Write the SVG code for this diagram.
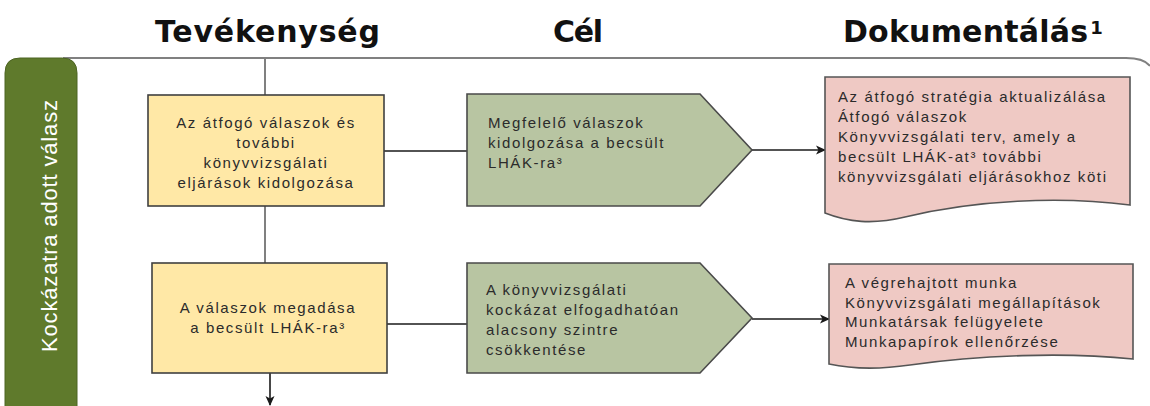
<svg xmlns="http://www.w3.org/2000/svg" width="1150" height="406" viewBox="0 0 1150 406">
  <style>
    .hdr { font-family: "DejaVu Sans", "Liberation Sans", sans-serif; font-weight: bold; font-size: 30px; fill: #111; }
    .txt { font-family: "Liberation Sans", Arial, sans-serif; font-size: 15px; fill: #2b2b2b; letter-spacing: 1.6px; }
    .mid { text-anchor: middle; }
    .act { fill: #FFE8A6; stroke: #404040; stroke-width: 1.6; }
    .goal { fill: #B8C5A2; stroke: #4a4a4a; stroke-width: 1.6; }
    .doc { fill: #EFC9C4; stroke: #555; stroke-width: 1.6; }
    .gray { stroke: #808080; stroke-width: 2; fill: none; }
    .blk { stroke: #1a1a1a; stroke-width: 1.6; fill: none; }
  </style>
  <defs>
    <marker id="arrow" markerWidth="10" markerHeight="10" refX="9" refY="5" orient="auto" markerUnits="userSpaceOnUse">
      <path d="M0,0.5 L10,5 L0,9.5 L2.5,5 Z" fill="#1a1a1a"/>
    </marker>
  </defs>

  <rect width="1150" height="406" fill="#ffffff"/>

  <!-- column headings -->
  <text class="hdr" x="155" y="42" textLength="225" lengthAdjust="spacing">Tevékenység</text>
  <text class="hdr" x="553" y="42" textLength="50" lengthAdjust="spacing">Cél</text>
  <text class="hdr" x="843" y="42"><tspan textLength="245" lengthAdjust="spacing">Dokumentálás</tspan><tspan font-size="18" dy="-8" dx="2">1</tspan></text>

  <!-- lane frame -->
  <path class="gray" d="M63,58 H1126 Q1144,58 1150,66"/>

  <!-- lane tab -->
  <g id="lane">
    <path d="M5,410 V73 Q5,58 20,58 H62 Q77,58 77,73 V410 Z" fill="#5F7A2C" stroke="#4d6423" stroke-width="1"/>
    <text x="0" y="0" transform="translate(57,352) rotate(-90)" font-family="'Liberation Sans', Arial, sans-serif" font-size="22" fill="#ffffff" textLength="252" lengthAdjust="spacing">Kockázatra adott válasz</text>
  </g>

  <!-- connectors -->
  <g id="connectors">
    <line class="gray" x1="265" y1="58" x2="265" y2="95"/>
    <line class="gray" x1="265" y1="206" x2="265" y2="263"/>
    <line class="blk" x1="384" y1="151" x2="467" y2="151"/>
    <line class="blk" x1="387" y1="324" x2="467" y2="324"/>
    <line class="blk" x1="752" y1="150" x2="825" y2="150" marker-end="url(#arrow)"/>
    <line class="blk" x1="752" y1="319" x2="829" y2="319" marker-end="url(#arrow)"/>
    <line class="blk" x1="270" y1="373" x2="270" y2="405" stroke-width="2" marker-end="url(#arrow)"/>
  </g>

  <!-- activities -->
  <g id="act1">
    <rect class="act" x="148" y="95" width="236" height="111"/>
    <text class="txt mid" x="266" y="128">Az átfogó válaszok és</text>
    <text class="txt mid" x="266" y="148">további</text>
    <text class="txt mid" x="266" y="168">könyvvizsgálati</text>
    <text class="txt mid" x="266" y="188">eljárások kidolgozása</text>
  </g>
  <g id="act2">
    <rect class="act" x="152" y="263" width="235" height="110"/>
    <text class="txt mid" x="268" y="313">A válaszok megadása</text>
    <text class="txt mid" x="268" y="333">a becsült LHÁK-ra³</text>
  </g>

  <!-- goals -->
  <g id="goal1">
    <path class="goal" d="M467,94 H700 L752,150 L700,206 H467 Z"/>
    <text class="txt" x="488" y="128">Megfelelő válaszok</text>
    <text class="txt" x="488" y="148">kidolgozása a becsült</text>
    <text class="txt" x="488" y="168">LHÁK-ra³</text>
  </g>
  <g id="goal2">
    <path class="goal" d="M467,263 H700 L752,318 L700,373 H467 Z"/>
    <text class="txt" x="486" y="295">A könyvvizsgálati</text>
    <text class="txt" x="486" y="315">kockázat elfogadhatóan</text>
    <text class="txt" x="486" y="335">alacsony szintre</text>
    <text class="txt" x="486" y="355">csökkentése</text>
  </g>

  <!-- documentation -->
  <g id="doc1">
    <path class="doc" d="M825,77 H1130 V205 C1060,196 975,200 905,217 C872,225 848,222 825,213 Z"/>
    <text class="txt" x="838" y="102">Az átfogó stratégia aktualizálása</text>
    <text class="txt" x="838" y="122">Átfogó válaszok</text>
    <text class="txt" x="838" y="142">Könyvvizsgálati terv, amely a</text>
    <text class="txt" x="838" y="162">becsült LHÁK-at³ további</text>
    <text class="txt" x="838" y="182">könyvvizsgálati eljárásokhoz köti</text>
  </g>
  <g id="doc2">
    <path class="doc" d="M829,264 H1133 V359 C1065,352 980,355 910,365 C876,370 852,369 829,364 Z"/>
    <text class="txt" x="845" y="288">A végrehajtott munka</text>
    <text class="txt" x="845" y="308">Könyvvizsgálati megállapítások</text>
    <text class="txt" x="845" y="327">Munkatársak felügyelete</text>
    <text class="txt" x="845" y="347">Munkapapírok ellenőrzése</text>
  </g>
</svg>
